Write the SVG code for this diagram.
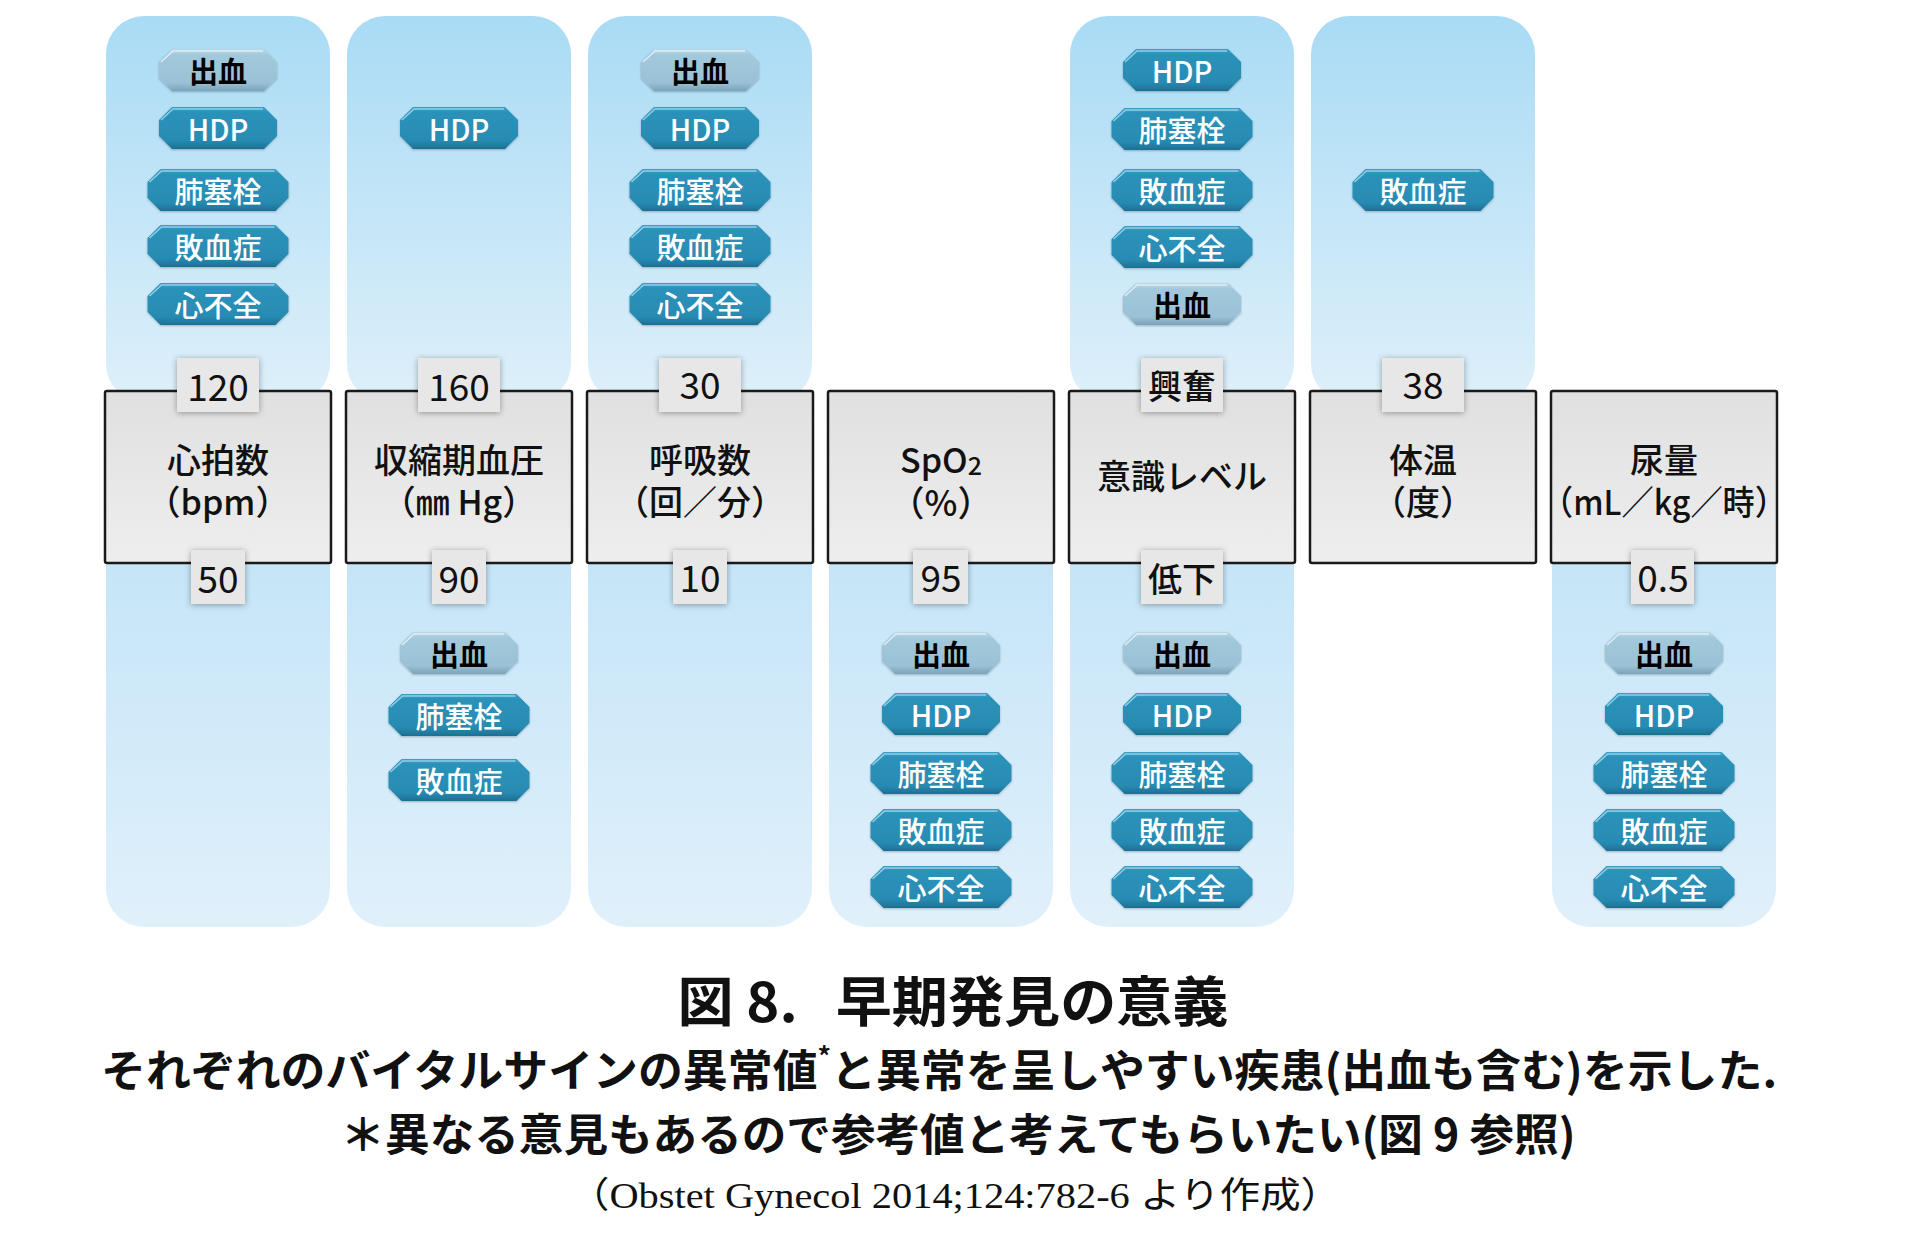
<svg xmlns="http://www.w3.org/2000/svg" xmlns:xlink="http://www.w3.org/1999/xlink" width="1908" height="1233" viewBox="0 0 1908 1233">
<style>
  text { font-family: "Noto Sans CJK JP", "Noto Sans", sans-serif; }
  .panel-top { fill: url(#gTop); }
  .panel-bot { fill: url(#gBot); }
  .box { fill: url(#gBox); stroke: #1a1a1a; stroke-width: 2.5; }
  .lbl { fill: #e7e7e7; filter: url(#sh); }
  .lt { font-size: 37px; fill: #111; text-anchor: middle; dominant-baseline: central; }
  .lj { font-size: 34px; fill: #111; text-anchor: middle; dominant-baseline: central; font-weight: 500; }
  .bt { font-size: 34px; fill: #111; text-anchor: middle; dominant-baseline: central; font-weight: 500; }
  .teal { fill: url(#gTeal); }
  .grey { fill: url(#gGrey); }
  .hl { fill: none; stroke: #a6dcf0; stroke-width: 1.6; opacity: 0.8; }
  .hlg { fill: none; stroke: #e3f1f8; stroke-width: 1.6; opacity: 0.9; }
  .pw { font-size: 29px; fill: #fff; text-anchor: middle; dominant-baseline: central; font-weight: 500; }
  .pb { font-size: 29px; fill: #000; text-anchor: middle; dominant-baseline: central; font-weight: 700; }
  .cap { font-weight: 700; fill: #111; text-anchor: middle; dominant-baseline: central; }
</style>
<defs>
  <linearGradient id="gTop" x1="0" y1="0" x2="0" y2="1">
    <stop offset="0" stop-color="#a9dbf5"/>
    <stop offset="1" stop-color="#def0fa"/>
  </linearGradient>
  <linearGradient id="gBot" x1="0" y1="0" x2="0" y2="1">
    <stop offset="0" stop-color="#c2e4f7"/>
    <stop offset="1" stop-color="#e0f0fb"/>
  </linearGradient>
  <linearGradient id="gBox" x1="0" y1="0" x2="0" y2="1">
    <stop offset="0" stop-color="#e0e0e0"/>
    <stop offset="1" stop-color="#eeeeee"/>
  </linearGradient>
  <linearGradient id="gTeal" x1="0" y1="0" x2="0" y2="1">
    <stop offset="0" stop-color="#3f9fc6"/>
    <stop offset="0.12" stop-color="#2c92ba"/>
    <stop offset="0.8" stop-color="#288bb2"/>
    <stop offset="1" stop-color="#1d6f93"/>
  </linearGradient>
  <linearGradient id="gGrey" x1="0" y1="0" x2="0" y2="1">
    <stop offset="0" stop-color="#bcd8e6"/>
    <stop offset="0.15" stop-color="#a2c8db"/>
    <stop offset="0.8" stop-color="#9ac1d5"/>
    <stop offset="1" stop-color="#7ba4ba"/>
  </linearGradient>
  <filter id="sh" x="-30%" y="-30%" width="160%" height="160%">
    <feDropShadow dx="0" dy="1" stdDeviation="3" flood-color="#000" flood-opacity="0.35"/>
  </filter>
  <filter id="psh" x="-20%" y="-30%" width="140%" height="160%">
    <feDropShadow dx="0" dy="1" stdDeviation="1" flood-color="#000" flood-opacity="0.25"/>
  </filter>
  <path id="p2" d="M-46,-21 H46 L59,-8 V8 L46,21 H-46 L-59,8 V-8 Z"/>
  <path id="p3" d="M-57.5,-21 H57.5 L70.5,-8 V8 L57.5,21 H-57.5 L-70.5,8 V-8 Z"/>
  <path id="h2" d="M-57,-8 L-45,-19 H45"/>
  <path id="h3" d="M-68.5,-8 L-56.5,-19 H56.5"/>
</defs>

<rect width="1908" height="1233" fill="#fff"/>

<!-- panels -->
<g id="panels">
  <rect class="panel-top" x="106" y="16" width="224" height="386" rx="38"/>
  <rect class="panel-top" x="347" y="16" width="224" height="386" rx="38"/>
  <rect class="panel-top" x="588" y="16" width="224" height="386" rx="38"/>
  <rect class="panel-top" x="1070" y="16" width="224" height="386" rx="38"/>
  <rect class="panel-top" x="1311" y="16" width="224" height="386" rx="38"/>
  <rect class="panel-bot" x="106" y="520" width="224" height="407" rx="38"/>
  <rect class="panel-bot" x="347" y="520" width="224" height="407" rx="38"/>
  <rect class="panel-bot" x="588" y="520" width="224" height="407" rx="38"/>
  <rect class="panel-bot" x="829" y="520" width="224" height="407" rx="38"/>
  <rect class="panel-bot" x="1070" y="520" width="224" height="407" rx="38"/>
  <rect class="panel-bot" x="1552" y="520" width="224" height="407" rx="38"/>
</g>

<g id="connectors"></g>

<!-- column 1 -->
<g id="node-heartrate">
  <rect class="box" x="105" y="391" width="226" height="172" rx="2"/>
  <text class="bt" x="218" y="458">心拍数<tspan x="218" dy="42">（bpm）</tspan></text>
  <rect class="lbl" x="177" y="358" width="82" height="54"/>
  <text class="lt" x="218" y="385">120</text>
  <rect class="lbl" x="191" y="550" width="54" height="54"/>
  <text class="lt" x="218" y="577">50</text>
</g>
<g id="pills-heartrate">
  <g transform="translate(218,70)"><use href="#p2" class="grey" filter="url(#psh)"/><use href="#h2" class="hlg"/><text class="pb">出血</text></g>
  <g transform="translate(218,128)"><use href="#p2" class="teal" filter="url(#psh)"/><use href="#h2" class="hl"/><text class="pw">HDP</text></g>
  <g transform="translate(218,190)"><use href="#p3" class="teal" filter="url(#psh)"/><use href="#h3" class="hl"/><text class="pw">肺塞栓</text></g>
  <g transform="translate(218,246)"><use href="#p3" class="teal" filter="url(#psh)"/><use href="#h3" class="hl"/><text class="pw">敗血症</text></g>
  <g transform="translate(218,304)"><use href="#p3" class="teal" filter="url(#psh)"/><use href="#h3" class="hl"/><text class="pw">心不全</text></g>
</g>

<!-- column 2 -->
<g id="node-sbp">
  <rect class="box" x="346" y="391" width="226" height="172" rx="2"/>
  <text class="bt" x="459" y="458" font-size="35">収縮期血圧<tspan x="459" dy="42" font-size="34">（㎜ Hg）</tspan></text>
  <rect class="lbl" x="418" y="358" width="82" height="54"/>
  <text class="lt" x="459" y="385">160</text>
  <rect class="lbl" x="432" y="550" width="54" height="54"/>
  <text class="lt" x="459" y="577">90</text>
</g>
<g id="pills-sbp">
  <g transform="translate(459,128)"><use href="#p2" class="teal" filter="url(#psh)"/><use href="#h2" class="hl"/><text class="pw">HDP</text></g>
  <g transform="translate(459,653)"><use href="#p2" class="grey" filter="url(#psh)"/><use href="#h2" class="hlg"/><text class="pb">出血</text></g>
  <g transform="translate(459,715)"><use href="#p3" class="teal" filter="url(#psh)"/><use href="#h3" class="hl"/><text class="pw">肺塞栓</text></g>
  <g transform="translate(459,780)"><use href="#p3" class="teal" filter="url(#psh)"/><use href="#h3" class="hl"/><text class="pw">敗血症</text></g>
</g>

<!-- column 3 -->
<g id="node-resp">
  <rect class="box" x="587" y="391" width="226" height="172" rx="2"/>
  <text class="bt" x="700" y="458">呼吸数<tspan x="700" dy="42">（回／分）</tspan></text>
  <rect class="lbl" x="659" y="358" width="82" height="54"/>
  <text class="lt" x="700" y="383">30</text>
  <rect class="lbl" x="673" y="550" width="54" height="54"/>
  <text class="lt" x="700" y="576">10</text>
</g>
<g id="pills-resp">
  <g transform="translate(700,70)"><use href="#p2" class="grey" filter="url(#psh)"/><use href="#h2" class="hlg"/><text class="pb">出血</text></g>
  <g transform="translate(700,128)"><use href="#p2" class="teal" filter="url(#psh)"/><use href="#h2" class="hl"/><text class="pw">HDP</text></g>
  <g transform="translate(700,190)"><use href="#p3" class="teal" filter="url(#psh)"/><use href="#h3" class="hl"/><text class="pw">肺塞栓</text></g>
  <g transform="translate(700,246)"><use href="#p3" class="teal" filter="url(#psh)"/><use href="#h3" class="hl"/><text class="pw">敗血症</text></g>
  <g transform="translate(700,304)"><use href="#p3" class="teal" filter="url(#psh)"/><use href="#h3" class="hl"/><text class="pw">心不全</text></g>
</g>

<!-- column 4 -->
<g id="node-spo2">
  <rect class="box" x="828" y="391" width="226" height="172" rx="2"/>
  <text class="bt" x="941" y="458" font-size="37">SpO<tspan font-size="25" dy="6">2</tspan><tspan x="941" dy="36" font-size="35">（%）</tspan></text>
  <rect class="lbl" x="913" y="550" width="55" height="54"/>
  <text class="lt" x="941" y="576">95</text>
</g>
<g id="pills-spo2">
  <g transform="translate(941,653)"><use href="#p2" class="grey" filter="url(#psh)"/><use href="#h2" class="hlg"/><text class="pb">出血</text></g>
  <g transform="translate(941,714)"><use href="#p2" class="teal" filter="url(#psh)"/><use href="#h2" class="hl"/><text class="pw">HDP</text></g>
  <g transform="translate(941,773)"><use href="#p3" class="teal" filter="url(#psh)"/><use href="#h3" class="hl"/><text class="pw">肺塞栓</text></g>
  <g transform="translate(941,830)"><use href="#p3" class="teal" filter="url(#psh)"/><use href="#h3" class="hl"/><text class="pw">敗血症</text></g>
  <g transform="translate(941,887)"><use href="#p3" class="teal" filter="url(#psh)"/><use href="#h3" class="hl"/><text class="pw">心不全</text></g>
</g>

<!-- column 5 -->
<g id="node-consciousness">
  <rect class="box" x="1069" y="391" width="226" height="172" rx="2"/>
  <text class="bt" x="1182" y="474" font-size="35">意識レベル</text>
  <rect class="lbl" x="1141" y="358" width="82" height="54"/>
  <text class="lj" x="1182" y="384">興奮</text>
  <rect class="lbl" x="1141" y="550" width="82" height="54"/>
  <text class="lj" x="1182" y="577">低下</text>
</g>
<g id="pills-consciousness">
  <g transform="translate(1182,70)"><use href="#p2" class="teal" filter="url(#psh)"/><use href="#h2" class="hl"/><text class="pw">HDP</text></g>
  <g transform="translate(1182,129)"><use href="#p3" class="teal" filter="url(#psh)"/><use href="#h3" class="hl"/><text class="pw">肺塞栓</text></g>
  <g transform="translate(1182,190)"><use href="#p3" class="teal" filter="url(#psh)"/><use href="#h3" class="hl"/><text class="pw">敗血症</text></g>
  <g transform="translate(1182,247)"><use href="#p3" class="teal" filter="url(#psh)"/><use href="#h3" class="hl"/><text class="pw">心不全</text></g>
  <g transform="translate(1182,304)"><use href="#p2" class="grey" filter="url(#psh)"/><use href="#h2" class="hlg"/><text class="pb">出血</text></g>
  <g transform="translate(1182,653)"><use href="#p2" class="grey" filter="url(#psh)"/><use href="#h2" class="hlg"/><text class="pb">出血</text></g>
  <g transform="translate(1182,714)"><use href="#p2" class="teal" filter="url(#psh)"/><use href="#h2" class="hl"/><text class="pw">HDP</text></g>
  <g transform="translate(1182,773)"><use href="#p3" class="teal" filter="url(#psh)"/><use href="#h3" class="hl"/><text class="pw">肺塞栓</text></g>
  <g transform="translate(1182,830)"><use href="#p3" class="teal" filter="url(#psh)"/><use href="#h3" class="hl"/><text class="pw">敗血症</text></g>
  <g transform="translate(1182,887)"><use href="#p3" class="teal" filter="url(#psh)"/><use href="#h3" class="hl"/><text class="pw">心不全</text></g>
</g>

<!-- column 6 -->
<g id="node-temperature">
  <rect class="box" x="1310" y="391" width="226" height="172" rx="2"/>
  <text class="bt" x="1423" y="458">体温<tspan x="1423" dy="42">（度）</tspan></text>
  <rect class="lbl" x="1382" y="358" width="82" height="54"/>
  <text class="lt" x="1423" y="383">38</text>
</g>
<g id="pills-temperature">
  <g transform="translate(1423,190)"><use href="#p3" class="teal" filter="url(#psh)"/><use href="#h3" class="hl"/><text class="pw">敗血症</text></g>
</g>

<!-- column 7 -->
<g id="node-urine">
  <rect class="box" x="1551" y="391" width="226" height="172" rx="2"/>
  <text class="bt" x="1664" y="458">尿量<tspan x="1664" dy="42" textLength="246" lengthAdjust="spacingAndGlyphs">（mL／kg／時）</tspan></text>
  <rect class="lbl" x="1631" y="550" width="63" height="54"/>
  <text class="lt" x="1663" y="576">0.5</text>
</g>
<g id="pills-urine">
  <g transform="translate(1664,653)"><use href="#p2" class="grey" filter="url(#psh)"/><use href="#h2" class="hlg"/><text class="pb">出血</text></g>
  <g transform="translate(1664,714)"><use href="#p2" class="teal" filter="url(#psh)"/><use href="#h2" class="hl"/><text class="pw">HDP</text></g>
  <g transform="translate(1664,773)"><use href="#p3" class="teal" filter="url(#psh)"/><use href="#h3" class="hl"/><text class="pw">肺塞栓</text></g>
  <g transform="translate(1664,830)"><use href="#p3" class="teal" filter="url(#psh)"/><use href="#h3" class="hl"/><text class="pw">敗血症</text></g>
  <g transform="translate(1664,887)"><use href="#p3" class="teal" filter="url(#psh)"/><use href="#h3" class="hl"/><text class="pw">心不全</text></g>
</g>

<!-- caption -->
<g id="caption">
  <text class="cap" x="953" y="998" font-size="54" textLength="551" lengthAdjust="spacingAndGlyphs" xml:space="preserve">図 8.  <tspan dx="12">早期発見の意義</tspan></text>
  <text class="cap" x="939" y="1068" font-size="44" textLength="1676" lengthAdjust="spacingAndGlyphs">それぞれのバイタルサインの異常値<tspan font-size="26" dy="-14">*</tspan><tspan dy="14">と異常を呈しやすい疾患(出血も含む)を示した.</tspan></text>
  <text class="cap" x="958" y="1132" font-size="44" textLength="1235" lengthAdjust="spacingAndGlyphs">＊異なる意見もあるので参考値と考えてもらいたい(図 9 参照)</text>
  <text x="955" y="1196" font-size="36" fill="#111" text-anchor="middle" dominant-baseline="central" style="font-family: 'Liberation Serif', 'Noto Sans CJK JP', serif;" textLength="772" lengthAdjust="spacingAndGlyphs">（Obstet Gynecol 2014;124:782-6 より作成）</text>
</g>
</svg>
